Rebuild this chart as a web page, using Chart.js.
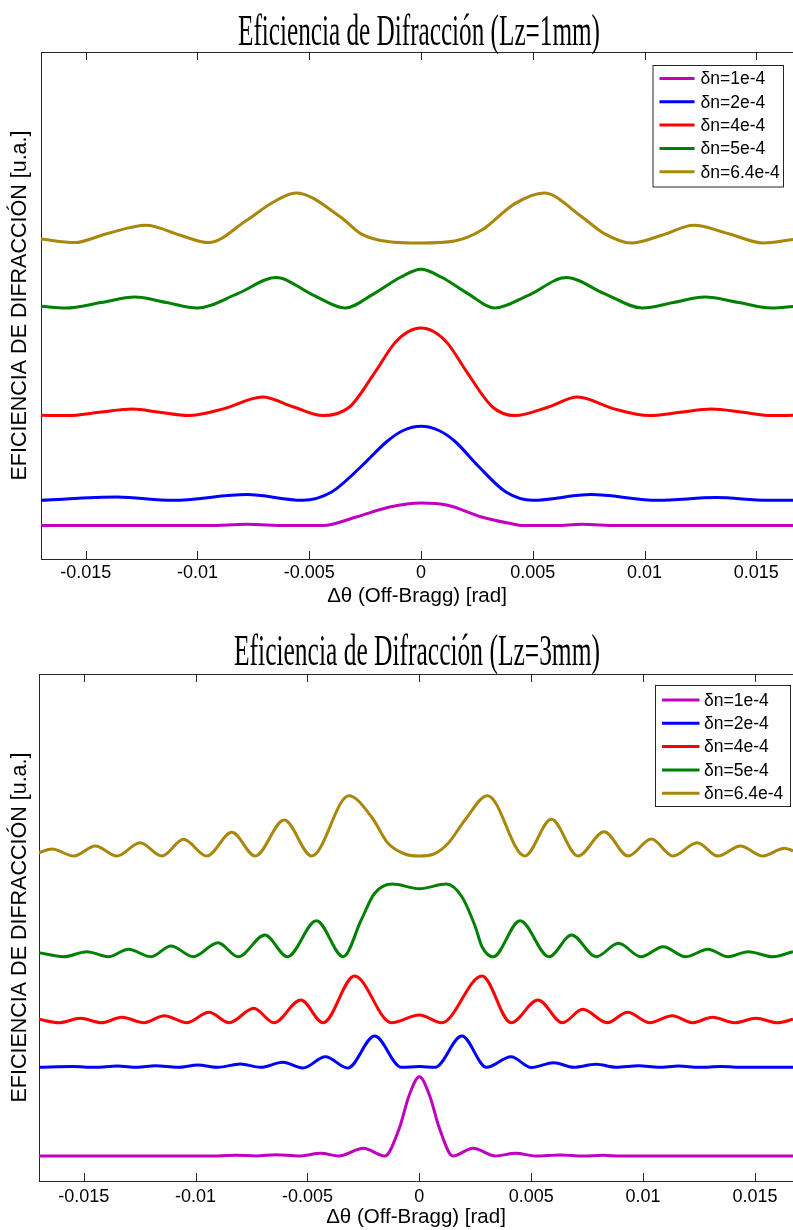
<!DOCTYPE html>
<html>
<head>
<meta charset="utf-8">
<title>Eficiencia de Difracción</title>
<script src="https://cdn.jsdelivr.net/npm/chart.js@4.4.1/dist/chart.umd.min.js"></script>
<style>
  html, body { margin: 0; padding: 0; background: #fff; overflow: hidden; }
  .panel { position: relative; width: 793px; height: 615px; }
  canvas { display: block; }
</style>
</head>
<body>
<div class="panel"><canvas id="lz1" width="793" height="615"></canvas></div>
<div class="panel"><canvas id="lz3" width="793" height="615"></canvas></div>
<script>
// Series names and colours (index modulation δn)
const seriesLabels = ['δn=1e-4', 'δn=2e-4', 'δn=4e-4', 'δn=5e-4', 'δn=6.4e-4'];
const seriesColors = ['#bf00bf', '#0000ff', '#ff0000', '#008000', '#a8870a'];

// Off-Bragg axis ticks [rad]
const xTickValues = [-0.015, -0.01, -0.005, 0, 0.005, 0.01, 0.015];
const xTickLabels = ['-0.015', '-0.01', '-0.005', '0', '0.005', '0.01', '0.015'];

// Lz = 1 mm : [Δθ, efficiency (u.a., curves stacked)]
const lz1_dn1 = [[-0.017, 33.4], [-0.0095, 33.4], [-0.0078, 34.7], [-0.006, 33.4], [-0.0044, 33.4], [-0.0029, 42], [-0.0014, 52], [0, 56],
  [0.0012, 53.7], [0.0027, 42], [0.0041, 35], [0.0045, 33.4], [0.006, 33.4], [0.0072, 34.7], [0.0088, 33.4], [0.0167, 33.4]];
const lz1_dn2 = [[-0.017, 58.7], [-0.0136, 62], [-0.0111, 58.7], [-0.0078, 64.4], [-0.0053, 58.7], [-0.004, 67], [-0.0027, 92], [-0.0015, 118],
  [-0.0008, 128.5], [0, 132.7], [0.0008, 128.5], [0.0015, 118], [0.0026, 92], [0.0038, 67], [0.005, 58.7], [0.0076, 64.4], [0.0106, 58.7],
  [0.0132, 61.4], [0.0155, 58.7], [0.0167, 58.7]];
const lz1_dn4 = [[-0.017, 143.7], [-0.0158, 143.4], [-0.0144, 146.7], [-0.0129, 150], [-0.0117, 146.7], [-0.0104, 143.4], [-0.0088, 150.4],
  [-0.0071, 162], [-0.0057, 152], [-0.0044, 143.4], [-0.0032, 152], [-0.0021, 185.4], [-0.0012, 215.4], [-0.0006, 227], [0, 231],
  [0.0006, 227], [0.0012, 215.4], [0.002, 188.7], [0.0032, 152], [0.0042, 143.4], [0.0057, 152], [0.007, 162], [0.0086, 150.4],
  [0.0102, 143.4], [0.0116, 146.7], [0.013, 150], [0.0144, 146.7], [0.0157, 143.4], [0.0167, 143.7]];
const lz1_dn5 = [[-0.017, 252.7], [-0.0159, 251], [-0.0143, 256.5], [-0.0128, 262], [-0.0114, 256.5], [-0.01, 251], [-0.0082, 265.4],
  [-0.0065, 281.4], [-0.0048, 263.7], [-0.0034, 251], [-0.0021, 265.4], [-0.0009, 282], [0, 289.7], [0.0009, 282], [0.0021, 265.4],
  [0.0033, 251], [0.0048, 263.7], [0.0065, 281.4], [0.0082, 265.4], [0.0099, 251], [0.0113, 256.5], [0.0127, 262], [0.0142, 256.5],
  [0.0157, 251], [0.0167, 252.7]];
const lz1_dn64 = [[-0.017, 320], [-0.0155, 316.4], [-0.0141, 325], [-0.0123, 333.7], [-0.0108, 324], [-0.0095, 316.4], [-0.0078, 338.7],
  [-0.0066, 357], [-0.0056, 366], [-0.0036, 342], [-0.0027, 325.4], [-0.0015, 317.5], [0, 316], [0.0015, 318], [0.0027, 328.7],
  [0.0042, 355.4], [0.0055, 366], [0.0072, 342], [0.0082, 325.4], [0.0094, 316], [0.0108, 324], [0.0122, 333.7], [0.0138, 325],
  [0.0153, 316], [0.0167, 319.7]];

// Lz = 3 mm : [Δθ, efficiency (u.a., curves stacked)]
const lz3_dn1 = [[-0.017, 25], [-0.009, 25], [-0.0082, 25.8], [-0.0073, 25], [-0.0064, 26.3], [-0.0054, 25], [-0.0044, 27.7], [-0.0036, 25],
  [-0.0025, 32.7], [-0.00155, 25], [-0.0009, 52.5], [-0.00045, 86], [0, 104.3], [0.00045, 86], [0.0009, 52.5], [0.0015, 25], [0.0024, 32.7],
  [0.0034, 25], [0.0043, 27.7], [0.0052, 25], [0.0063, 26], [0.0073, 25], [0.0082, 25.7], [0.009, 25], [0.0167, 25]];
const lz3_dn2 = [[-0.017, 113.7], [-0.0155, 114.5], [-0.0145, 113.7], [-0.0135, 115], [-0.0126, 113.7], [-0.0118, 115.3], [-0.0108, 113.7],
  [-0.0099, 116], [-0.009, 113.7], [-0.008, 117], [-0.0071, 113.7], [-0.0061, 118.7], [-0.0052, 113], [-0.0042, 124.3], [-0.0032, 113],
  [-0.002, 145], [-0.0008, 113.7], [0, 114.5], [0.0007, 113.7], [0.0019, 145], [0.003, 113.7], [0.0041, 124.3], [0.005, 113.5],
  [0.006, 118.3], [0.0069, 113.7], [0.0079, 116.7], [0.0088, 113.7], [0.0098, 115.3], [0.0107, 113.7], [0.0116, 115], [0.0125, 113.7],
  [0.0135, 114.5], [0.0145, 113.7], [0.0167, 113.7]];
const lz3_dn4 = [[-0.017, 161.7], [-0.0161, 158.3], [-0.01515, 162.7], [-0.0142, 158.3], [-0.0133, 163.7], [-0.0123, 158.3], [-0.0114, 165.3],
  [-0.0104, 158.3], [-0.0094, 168.7], [-0.0085, 158.3], [-0.0074, 172.7], [-0.0065, 158.3], [-0.0053, 181], [-0.0043, 158.3],
  [-0.0029, 205], [-0.00125, 158.3], [0, 166], [0.001, 158.3], [0.0028, 205], [0.0041, 158.3], [0.0053, 181], [0.0064, 158.3],
  [0.0073, 171.7], [0.0084, 158.3], [0.0093, 168.7], [0.0103, 158.3], [0.0113, 165.3], [0.0122, 158.3], [0.0131, 163.7], [0.0141, 158.3],
  [0.01505, 162.7], [0.016, 158.3], [0.0167, 161.7]];
const lz3_dn5 = [[-0.017, 228.3], [-0.0159, 224.3], [-0.01486, 229.3], [-0.0139, 224.3], [-0.013, 231.7], [-0.012, 224.3], [-0.0111, 235],
  [-0.0101, 224.3], [-0.009, 238.3], [-0.0081, 224.3], [-0.0069, 246], [-0.0059, 224.3], [-0.0046, 260.3], [-0.0034, 224.3],
  [-0.0026, 261], [-0.002, 287.7], [-0.0012, 297], [0, 292.3], [0.0012, 297], [0.0019, 284.3], [0.0025, 254.3], [0.0028, 234.3],
  [0.0033, 224.3], [0.0045, 260.3], [0.0058, 224.3], [0.0068, 246], [0.0079, 224.3], [0.0089, 237.7], [0.0099, 224.3], [0.0109, 234.3],
  [0.0119, 224.3], [0.0129, 231.7], [0.0138, 224.3], [0.0147, 229.3], [0.0158, 224.3], [0.0167, 229.3]];
const lz3_dn64 = [[-0.017, 328.3], [-0.01642, 332], [-0.01545, 325], [-0.01448, 335], [-0.01352, 325], [-0.01248, 338.3], [-0.01151, 325],
  [-0.01054, 341.7], [-0.0095, 325], [-0.00838, 348.7], [-0.00734, 325], [-0.00604, 361], [-0.00481, 325], [-0.00315, 385.3],
  [-0.00214, 364.3], [-0.0014, 337.7], [-0.00065, 327], [0, 325], [0.00065, 327], [0.00129, 337.7], [0.00204, 361], [0.00305, 385.3],
  [0.00471, 325], [0.0059, 361.7], [0.00709, 325], [0.00826, 349.3], [0.00933, 325], [0.01037, 342], [0.01133, 325], [0.01242, 338.3],
  [0.01334, 325], [0.01435, 335], [0.01535, 325], [0.01632, 332.7], [0.0167, 330.3]];

const SANS = '"Liberation Sans", Arial, Helvetica, sans-serif';
const FRAME = '#262626';

function makePanel(canvasId, cfg) {
  const canvas = document.getElementById(canvasId);
  const H = canvas.height;

  // Heading in a tall, narrow serif face
  const headingPlugin = {
    id: 'heading',
    afterDraw(chart) {
      const ctx = chart.ctx;
      ctx.save();
      ctx.font = '44px "Liberation Serif", "Times New Roman", serif';
      ctx.fillStyle = '#000';
      ctx.textAlign = 'center';
      ctx.textBaseline = 'alphabetic';
      const w = ctx.measureText(cfg.title).width;
      ctx.translate(cfg.titleX, cfg.titleBaseline);
      ctx.scale(cfg.titleWidth / w, 1);
      ctx.fillText(cfg.title, 0, 0);
      ctx.restore();
    }
  };

  // Closed top edge of the axes box and inward tick marks
  const framePlugin = {
    id: 'frame',
    afterDatasetsDraw(chart) {
      const {ctx, chartArea: a, scales: {x}} = chart;
      ctx.save();
      ctx.strokeStyle = FRAME;
      ctx.lineWidth = 1;
      ctx.beginPath();
      ctx.moveTo(a.left, Math.round(a.top) + 0.5);
      ctx.lineTo(a.right, Math.round(a.top) + 0.5);
      for (const v of xTickValues) {
        const px = Math.round(x.getPixelForValue(v)) + 0.5;
        ctx.moveTo(px, a.bottom);
        ctx.lineTo(px, a.bottom - 8);
        ctx.moveTo(px, a.top);
        ctx.lineTo(px, a.top + 8);
      }
      ctx.stroke();
      ctx.restore();
    }
  };

  // Boxed legend inside the upper right corner
  const legendPlugin = {
    id: 'boxLegend',
    afterDraw(chart) {
      const ctx = chart.ctx;
      const b = cfg.legendBox;
      ctx.save();
      ctx.fillStyle = '#fff';
      ctx.fillRect(b.x, b.y, b.w, b.h);
      ctx.strokeStyle = FRAME;
      ctx.lineWidth = 1;
      ctx.strokeRect(b.x + 0.5, b.y + 0.5, b.w, b.h);
      ctx.font = '17.5px ' + SANS;
      ctx.textBaseline = 'middle';
      ctx.textAlign = 'left';
      chart.data.datasets.forEach((ds, i) => {
        const y = b.y + b.first + i * 23.3;
        ctx.strokeStyle = ds.borderColor;
        ctx.lineWidth = 3;
        ctx.beginPath();
        ctx.moveTo(b.x + 7, y);
        ctx.lineTo(b.x + 7 + b.line, y);
        ctx.stroke();
        ctx.fillStyle = '#000';
        ctx.fillText(ds.label, b.x + b.text, y + 1);
      });
      ctx.restore();
    }
  };

  return new Chart(canvas, {
    type: 'line',
    data: {
      datasets: cfg.series.map((pts, i) => ({
        label: seriesLabels[i],
        data: pts.map(([x, y]) => ({x, y})),
        borderColor: seriesColors[i],
        backgroundColor: seriesColors[i],
        borderWidth: 3,
        pointRadius: 0,
        fill: false,
        cubicInterpolationMode: 'monotone'
      }))
    },
    options: {
      responsive: false,
      animation: false,
      events: [],
      layout: {padding: {top: cfg.area.top, right: 0, bottom: 0, left: 0}},
      plugins: {legend: {display: false}, tooltip: {enabled: false}, title: {display: false}},
      scales: {
        x: {
          type: 'linear',
          min: -0.017,
          max: cfg.xMax,
          afterBuildTicks: s => { s.ticks = xTickValues.map(v => ({value: v})); },
          afterFit: s => { s.height = H - cfg.area.bottom; },
          ticks: {
            callback: v => { const k = xTickValues.indexOf(v); return k >= 0 ? xTickLabels[k] : ''; },
            font: {family: SANS, size: 18},
            color: '#000',
            padding: cfg.tickPad,
            maxRotation: 0,
            autoSkip: false
          },
          grid: {display: false, drawTicks: false},
          border: {display: true, color: FRAME, width: 1},
          title: {
            display: true,
            text: 'Δθ (Off-Bragg) [rad]',
            font: {family: SANS, size: 20.5},
            color: '#000',
            padding: {top: 0, bottom: cfg.xTitlePad}
          }
        },
        y: {
          type: 'linear',
          min: 0,
          max: 507,
          afterFit: s => { s.width = cfg.area.left; },
          ticks: {display: false},
          grid: {display: false, drawTicks: false},
          border: {display: true, color: FRAME, width: 1},
          title: {
            display: true,
            text: 'EFICIENCIA DE DIFRACCIÓN [u.a.]',
            font: {family: SANS, size: 21.5},
            color: '#000',
            padding: {top: 7, bottom: 0}
          }
        }
      }
    },
    plugins: [framePlugin, headingPlugin, legendPlugin]
  });
}

makePanel('lz1', {
  title: 'Eficiencia de Difracción (Lz=1mm)',
  titleX: 419, titleBaseline: 44.5, titleWidth: 362,
  series: [lz1_dn1, lz1_dn2, lz1_dn4, lz1_dn5, lz1_dn64],
  area: {top: 52, bottom: 559, left: 41},
  xMax: 0.01664,
  tickPad: 3.2,
  xTitlePad: 6,
  legendBox: {x: 652.5, y: 65, w: 130.5, h: 121.5, first: 13.5, line: 35, text: 48}
});

makePanel('lz3', {
  title: 'Eficiencia de Difracción (Lz=3mm)',
  titleX: 417, titleBaseline: 49.5, titleWidth: 366,
  series: [lz3_dn1, lz3_dn2, lz3_dn4, lz3_dn5, lz3_dn64],
  area: {top: 59, bottom: 566, left: 39},
  xMax: 0.0167,
  tickPad: 4.9,
  xTitlePad: 0.5,
  legendBox: {x: 655, y: 70, w: 135, h: 121, first: 15, line: 37.5, text: 49}
});
</script>
</body>
</html>
